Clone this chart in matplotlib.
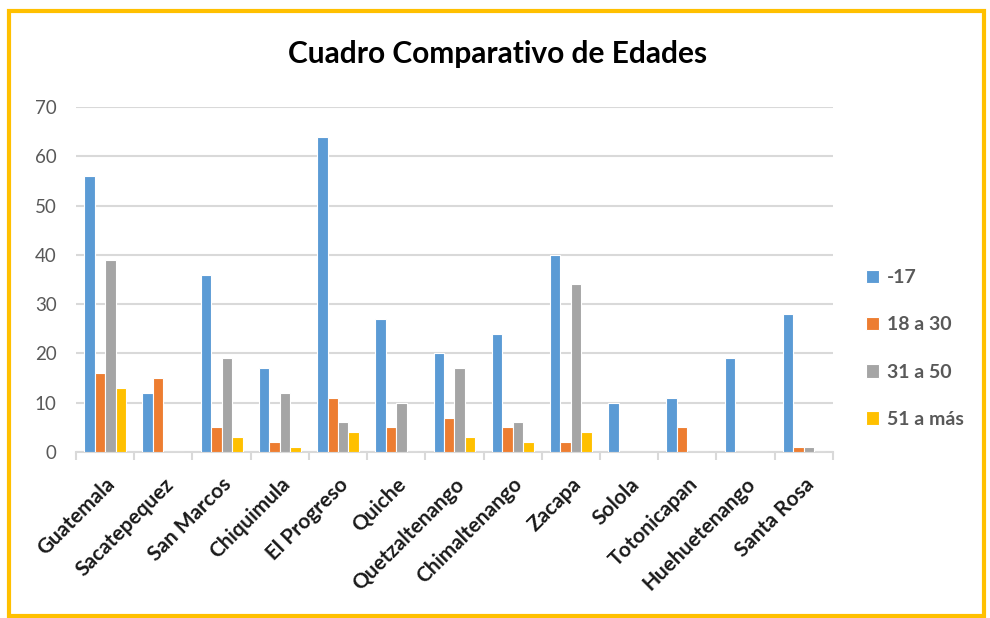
import numpy as np
import matplotlib.pyplot as plt
from matplotlib.patches import Rectangle

# Datos del cuadro comparativo
departamentos = ['Guatemala', 'Sacatepequez', 'San Marcos', 'Chiquimula', 'El Progreso',
                 'Quiche', 'Quetzaltenango', 'Chimaltenango', 'Zacapa', 'Solola',
                 'Totonicapan', 'Huehuetenango', 'Santa Rosa']
menos_17 = [56, 12, 36, 17, 64, 27, 20, 24, 40, 10, 11, 19, 28]
de_18_a_30 = [16, 15, 5, 2, 11, 5, 7, 5, 2, 0, 5, 0, 1]
de_31_a_50 = [39, 0, 19, 12, 6, 10, 17, 6, 34, 0, 0, 0, 1]
de_51_a_mas = [13, 0, 3, 1, 4, 0, 3, 2, 4, 0, 0, 0, 0]

series = [menos_17, de_18_a_30, de_31_a_50, de_51_a_mas]
nombres = ['-17', '18 a 30', '31 a 50', '51 a más']
colores = ['#5B9BD5', '#ED7D31', '#A5A5A5', '#FFC000']

plt.rcParams['font.family'] = ['Lato', 'DejaVu Sans']

fig = plt.figure(figsize=(9.9, 6.18), dpi=100)
ax = fig.add_axes([0.0768, 0.2686, 0.7645, 0.5583])

x = np.arange(len(departamentos))
ancho = 0.18
for i, (valores, nombre, color) in enumerate(zip(series, nombres, colores)):
    ax.bar(x + (i - 1.5) * ancho, valores, ancho, color=color, label=nombre,
           edgecolor='white', linewidth=0.8, zorder=3)

ax.set_xlim(-0.5, len(departamentos) - 0.5)
ax.set_ylim(0, 70)
ax.set_yticks(range(0, 71, 10))
ax.yaxis.grid(True, color='#D9D9D9', linewidth=1.5, zorder=0)
ax.tick_params(axis='y', length=0, labelsize=13.5, labelcolor='#595959', pad=14)

ax.set_xticks(np.arange(-0.5, len(departamentos), 1), minor=False)
ax.set_xticklabels([])
ax.set_xticks(x, minor=True)
ax.set_xticklabels(departamentos, minor=True, rotation=45, ha='right',
                   rotation_mode='anchor', fontsize=15, fontweight='bold', color='#1a1a1a')
ax.tick_params(axis='x', which='major', length=6, color='#D9D9D9', width=1.5)
ax.tick_params(axis='x', which='minor', length=0, pad=16)

for lado in ['top', 'right', 'left']:
    ax.spines[lado].set_visible(False)
ax.spines['bottom'].set_color('#D9D9D9')
ax.spines['bottom'].set_linewidth(1.5)

fig.text(0.503, 0.913, 'Cuadro Comparativo de Edades', ha='center', va='center',
         fontsize=21.5, fontweight='bold', color='black')

ax.legend(loc='center left', bbox_to_anchor=(1.02, 0.30), frameon=False,
          labelspacing=1.55, handlelength=0.7, handleheight=0.7,
          handletextpad=0.4, prop={'weight': 'bold', 'size': 14})
for t in ax.get_legend().get_texts():
    t.set_color('#595959')

fig.patches.append(Rectangle((0.0095, 0.003), 0.984, 0.98, transform=fig.transFigure,
                             fill=False, edgecolor='#FFC000', linewidth=3))

plt.savefig('out.png', dpi=100)
